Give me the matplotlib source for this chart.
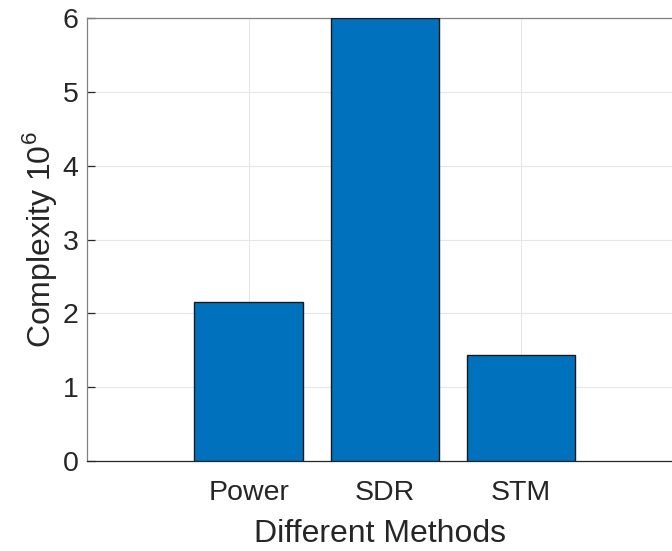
import matplotlib
matplotlib.use("Agg")
import matplotlib.pyplot as plt

plt.rcParams['font.family'] = ['Liberation Sans', 'DejaVu Sans']
plt.rcParams['mathtext.fontset'] = 'custom'
plt.rcParams['mathtext.rm'] = 'Liberation Sans'

methods = ["Power", "SDR", "STM"]
complexity = [2.15, 6.0, 1.43]
y_ticks = [0, 1, 2, 3, 4, 5, 6]

W, H = 672, 551
fig = plt.figure(figsize=(W / 100, H / 100), dpi=100)
left, right, top, bottom = 87, 672, 18, 461
ax = fig.add_axes([left / W, 1 - bottom / H, (right - left) / W, (bottom - top) / H])

pos = list(range(len(methods)))
ax.bar(pos, complexity, width=0.8, color="#0072BD", edgecolor="#1a1a1a",
       linewidth=1.0, zorder=3)

ax.set_xlim(-1.19, 3.11)
ax.set_ylim(0, 6)
ax.set_xticks(pos)
ax.set_xticklabels(methods)
ax.set_yticks(y_ticks)

ax.grid(True, color="#e6e6e6", linewidth=0.8, zorder=0)
ax.set_axisbelow(True)

for s in ["left", "top", "bottom"]:
    ax.spines[s].set_linewidth(0.9)
ax.spines["bottom"].set_color("#262626")
ax.spines["top"].set_color("#808080")
ax.spines["left"].set_color("#808080")
ax.spines["right"].set_visible(False)

ax.tick_params(axis="both", direction="in", length=6, width=0.9,
               colors="#262626", labelsize=20.5, labelcolor="#262626")
ax.tick_params(axis="x", pad=14)
ax.tick_params(axis="y", pad=6)

ax.set_xlabel("Different Methods", fontsize=23, color="#262626", labelpad=9)
ax.set_ylabel("Complexity 10$^6$", fontsize=23, color="#262626", labelpad=3)

fig.savefig("out.png", dpi=100)
